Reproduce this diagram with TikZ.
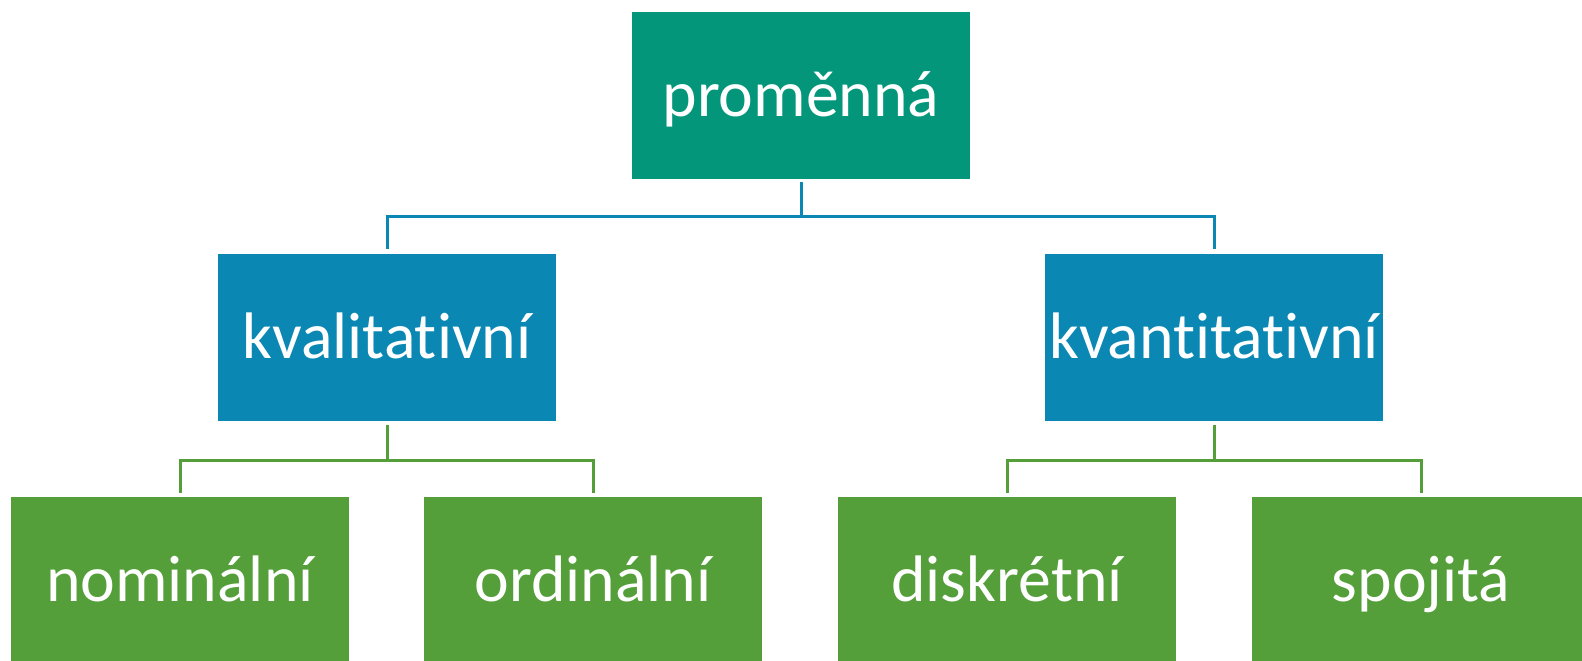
\documentclass[tikz,border=0pt]{standalone}
\usepackage{fontspec}
\setmainfont[Ligatures=NoCommon]{Carlito}
\definecolor{cteal}{HTML}{03967A}
\definecolor{cblue}{HTML}{0A88B3}
\definecolor{cgreen}{HTML}{549F3A}
\tikzset{
  box/.style={rectangle, minimum width=338bp, minimum height=167bp, inner sep=0pt,
    text height=50bp, text depth=8bp,
    text=white, font=\fontsize{66}{78}\selectfont},
  topbox/.style={box, fill=cteal},
  midbox/.style={box, fill=cblue},
  lowbox/.style={box, fill=cgreen},
  bline/.style={draw=cblue, line width=3bp},
  gline/.style={draw=cgreen, line width=3bp},
}
\begin{document}
\begin{tikzpicture}[x=1bp,y=-1bp]
\useasboundingbox (0,0) rectangle (1582,661);
\node[topbox] (top) at (801,95.5) {proměnná};
\node[midbox] (kval) at (387,337.5) {kvalitativní};
\node[midbox] (kvant) at (1214,337.5) {kvantitativní};
\node[lowbox] (nom) at (180,580.5) {nominální};
\node[lowbox] (ord) at (593,580.5) {ordinální};
\node[lowbox] (dis) at (1007,580.5) {diskrétní};
\node[lowbox] (spo) at (1421,580.5) {spojitá};
\coordinate (bus1) at (801,216);
\coordinate (bus2) at (387,460);
\coordinate (bus3) at (1214,460);
\draw[bline] ([yshift=-3bp]top.south) -- (top.south |- bus1);
\draw[bline] ([yshift=5bp]kval.north) |- (bus1) -| ([yshift=5bp]kvant.north);
\draw[gline] ([yshift=-4bp]kval.south) -- (bus2);
\draw[gline] ([yshift=4bp]nom.north) |- (bus2) -| ([yshift=4bp]ord.north);
\draw[gline] ([yshift=-4bp]kvant.south) -- (bus3);
\draw[gline] ([yshift=4bp]dis.north) |- (bus3) -| ([yshift=4bp]spo.north);
\end{tikzpicture}
\end{document}
